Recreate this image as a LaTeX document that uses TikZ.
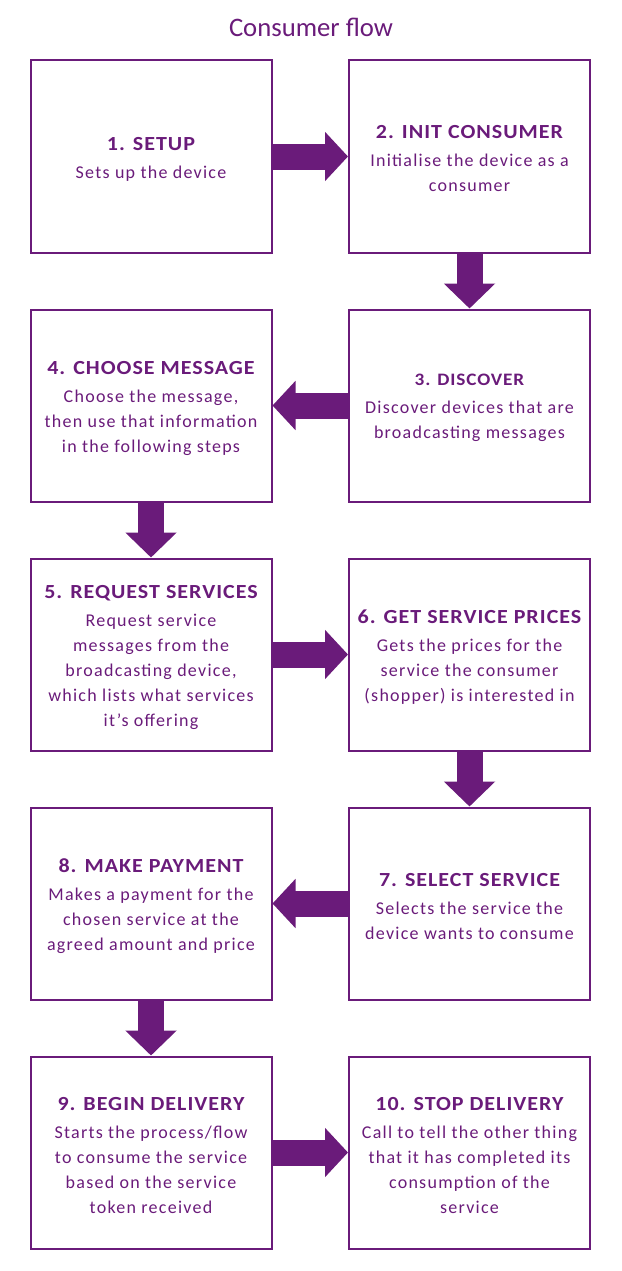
\documentclass[tikz,border=0pt]{standalone}
\usepackage{fontspec}
\setmainfont{Carlito}
\newfontfamily\bodyfam[LetterSpace=7]{Carlito}
\newfontfamily\headfam[LetterSpace=5,FakeStretch=1.1]{Carlito}
\usetikzlibrary{arrows.meta}
\definecolor{pur}{RGB}{106,27,122}
\newcommand\headf{\headfam\fontsize{20}{29}\selectfont\bfseries}
\newcommand\headsmall{\headfam\fontsize{17.5}{29}\selectfont\bfseries}
\newcommand\bodyf{\bodyfam\fontsize{18}{25}\selectfont}
\begin{document}
\begin{tikzpicture}[x=1pt,y=-1pt,
  box/.style={draw=pur,line width=2pt,minimum width=241pt,minimum height=192pt,inner sep=0pt},
  boxtext/.style={inner sep=0pt,align=center,text=pur,font=\bodyf,yshift=-2.5pt},
  flowarrow/.style={draw=pur,line width=26pt,-{Triangle[length=23pt,width=48pt]}},
  downarrow/.style={draw=pur,line width=26pt,-{Triangle[length=25pt,width=50pt]}},
  titlestyle/.style={text=pur,font=\fontsize{26.7}{32}\selectfont,inner sep=0pt}]
\useasboundingbox (0,0) rectangle (621,1271);
\node[titlestyle] (title) at (311,27) {Consumer flow};
\node[box] (b1) at (151,156.5) {};
\node[box] (b2) at (469.5,156.5) {};
\node[box] (b3) at (469.5,405.5) {};
\node[box] (b4) at (151,405.5) {};
\node[box] (b5) at (151,654.5) {};
\node[box] (b6) at (469.5,654.5) {};
\node[box] (b7) at (469.5,903.5) {};
\node[box] (b8) at (151,903.5) {};
\node[box] (b9) at (151,1152.5) {};
\node[box] (b10) at (469.5,1152.5) {};
\node[boxtext] (t1) at (b1.center) {{\headf 1. SETUP}\\[3pt]Sets up the device};
\node[boxtext] (t2) at (b2.center) {{\headf 2. INIT CONSUMER}\\[3pt]Initialise the device as a\\consumer};
\node[boxtext] (t3) at (b3.center) {{\headsmall 3. DISCOVER}\\[3pt]Discover devices that are\\broadcasting messages};
\node[boxtext] (t4) at (b4.center) {{\headf 4. CHOOSE MESSAGE}\\[3pt]Choose the message,\\then use that information\\in the following steps};
\node[boxtext] (t5) at (b5.center) {{\headf 5. REQUEST SERVICES}\\[3pt]Request service\\messages from the\\broadcasting device,\\which lists what services\\it’s offering};
\node[boxtext] (t6) at (b6.center) {{\headf 6. GET SERVICE PRICES}\\[3pt]Gets the prices for the\\service the consumer\\(shopper) is interested in};
\node[boxtext] (t7) at (b7.center) {{\headf 7. SELECT SERVICE}\\[3pt]Selects the service the\\device wants to consume};
\node[boxtext] (t8) at (b8.center) {{\headf 8. MAKE PAYMENT}\\[3pt]Makes a payment for the\\chosen service at the\\agreed amount and price};
\node[boxtext] (t9) at (b9.center) {{\headf 9. BEGIN DELIVERY}\\[3pt]Starts the process/flow\\to consume the service\\based on the service\\token received};
\node[boxtext] (t10) at (b10.center) {{\headf 10. STOP DELIVERY}\\[3pt]Call to tell the other thing\\that it has completed its\\consumption of the\\service};
\draw[flowarrow] (b1.east) -- (b2.west);
\draw[downarrow] (b2.south) -- (b3.north);
\draw[flowarrow] (b3.west) -- (b4.east);
\draw[downarrow] (b4.south) -- (b5.north);
\draw[flowarrow] (b5.east) -- (b6.west);
\draw[downarrow] (b6.south) -- (b7.north);
\draw[flowarrow] (b7.west) -- (b8.east);
\draw[downarrow] (b8.south) -- (b9.north);
\draw[flowarrow] (b9.east) -- (b10.west);
\end{tikzpicture}
\end{document}
